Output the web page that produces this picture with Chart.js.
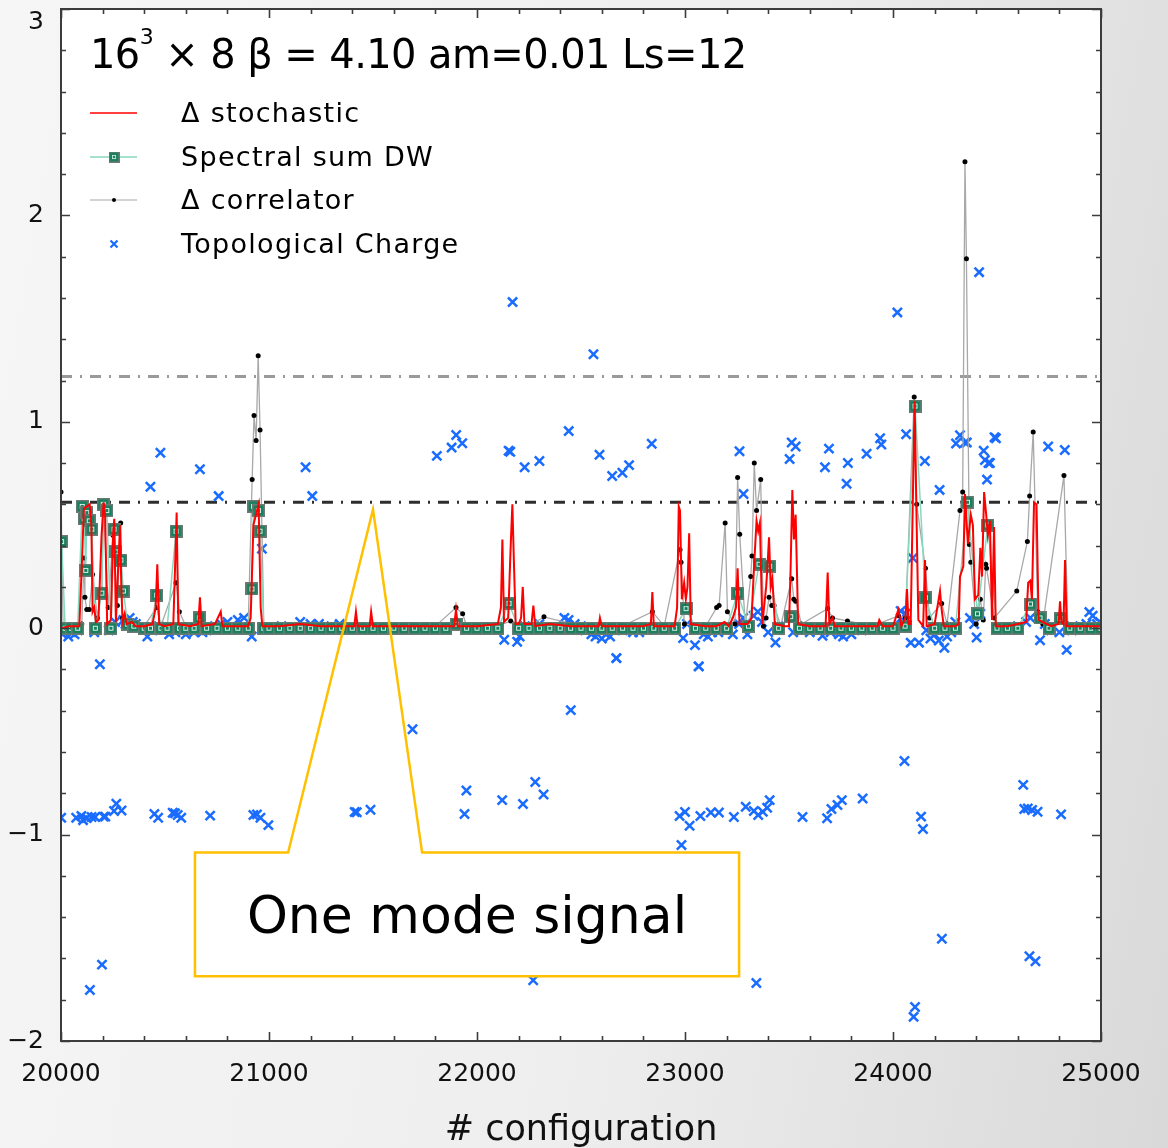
<!DOCTYPE html>
<html><head><meta charset="utf-8">
<script src="https://cdn.jsdelivr.net/npm/chart.js@4/dist/chart.umd.min.js"></script>
<style>
html,body{margin:0;padding:0;}
body{width:1168px;height:1148px;overflow:hidden;background:linear-gradient(100deg,#f6f6f6 0%,#eeeeee 55%,#d9d9d9 100%);font-family:"DejaVu Sans",sans-serif;}
#wrap{position:relative;width:1168px;height:1148px;}
#c{position:absolute;left:0;top:0;}
.t{position:absolute;white-space:nowrap;color:#000;line-height:1;}
#title{left:90px;top:34px;font-size:40px;letter-spacing:-0.6px;}
#title sup{font-size:22px;position:relative;top:-8px;vertical-align:top;}
.lg{left:181px;font-size:27px;letter-spacing:1.3px;}
#ann{left:195px;top:853px;width:544px;height:124px;font-size:52px;display:flex;align-items:center;justify-content:center;}
</style></head><body><div id="wrap">
<canvas id="c" width="1168" height="1148"></canvas>
<div class="t" id="title">16<sup>3</sup> × 8 β = 4.10 am=0.01 Ls=12</div>
<div class="t lg" style="top:99px">Δ stochastic</div>
<div class="t lg" style="top:143px">Spectral sum DW</div>
<div class="t lg" style="top:186px">Δ correlator</div>
<div class="t lg" style="top:230px">Topological Charge</div>
<div class="t" id="ann">One mode signal</div>
</div>
<script>
// ---------------- data ----------------
const xTickValues = [20000, 21000, 22000, 23000, 24000, 25000];
const yTickValues = [-2, -1, 0, 1, 2, 3];
const seriesNames = ['Δ stochastic', 'Spectral sum DW', 'Δ correlator', 'Topological Charge'];
const thresholdLevels = [1.22, 0.61];

const stochastic = [
[20000,0.0],[20040,0.01],[20088,0.01],[20100,0.3],[20110,0.58],[20124,0.59],[20138,0.6],[20146,0.5],[20152,0.08],[20160,0.1],[20168,0.03],[20180,0.04],[20195,0.45],[20205,0.61],[20212,0.55],[20222,0.02],[20240,0.04],[20250,0.45],[20256,0.53],[20264,0.03],[20275,0.3],[20284,0.5],[20290,0.2],[20296,0.03],[20306,0.07],[20315,0.02],[20340,0.03],[20360,0.01],[20400,0.01],[20440,0.02],[20455,0.1],[20463,0.31],[20472,0.02],[20500,0.01],[20540,0.02],[20550,0.35],[20556,0.56],[20564,0.02],[20620,0.01],[20660,0.02],[20668,0.15],[20676,0.01],[20740,0.02],[20768,0.08],[20776,0.01],[20850,0.01],[20900,0.01],[20912,0.05],[20925,0.5],[20940,0.56],[20950,0.6],[20960,0.1],[20968,0.01],[21050,0.01],[21150,0.02],[21250,0.01],[21350,0.01],[21410,0.01],[21418,0.08],[21426,0.01],[21484,0.01],[21491,0.08],[21500,0.01],[21600,0.01],[21700,0.01],[21800,0.01],[21890,0.01],[21899,0.09],[21908,0.01],[22000,0.01],[22100,0.02],[22115,0.1],[22122,0.43],[22130,0.03],[22150,0.05],[22162,0.4],[22170,0.6],[22178,0.3],[22186,0.02],[22200,0.02],[22212,0.05],[22220,0.2],[22228,0.02],[22262,0.02],[22271,0.11],[22280,0.01],[22350,0.02],[22450,0.01],[22550,0.01],[22585,0.01],[22591,0.05],[22600,0.01],[22700,0.01],[22800,0.01],[22836,0.02],[22843,0.175],[22850,0.01],[22900,0.01],[22950,0.01],[22962,0.1],[22970,0.59],[22976,0.57],[22985,0.14],[22996,0.22],[23004,0.14],[23012,0.2],[23020,0.46],[23028,0.02],[23100,0.01],[23150,0.01],[23190,0.03],[23210,0.01],[23230,0.05],[23245,0.1],[23253,0.29],[23262,0.02],[23300,0.02],[23320,0.05],[23332,0.3],[23344,0.52],[23352,0.47],[23360,0.51],[23372,0.02],[23390,0.2],[23396,0.29],[23404,0.44],[23412,0.2],[23420,0.24],[23432,0.02],[23480,0.01],[23500,0.01],[23508,0.3],[23516,0.67],[23524,0.43],[23532,0.55],[23544,0.02],[23600,0.01],[23676,0.01],[23686,0.27],[23694,0.02],[23709,0.05],[23720,0.01],[23800,0.01],[23926,0.01],[23934,0.04],[23950,0.01],[24000,0.01],[24026,0.09],[24040,0.01],[24060,0.05],[24067,0.19],[24075,0.02],[24085,0.02],[24095,0.6],[24104,1.1],[24112,0.6],[24122,0.04],[24145,0.01],[24154,0.33],[24162,0.01],[24200,0.02],[24226,0.18],[24234,0.09],[24244,0.01],[24300,0.01],[24316,0.02],[24322,0.25],[24338,0.3],[24346,0.65],[24360,0.41],[24374,0.55],[24384,0.5],[24394,0.14],[24410,0.16],[24420,0.39],[24428,0.25],[24438,0.66],[24448,0.55],[24456,0.45],[24466,0.52],[24476,0.04],[24486,0.49],[24494,0.01],[24550,0.01],[24600,0.02],[24640,0.03],[24650,0.22],[24660,0.23],[24668,0.14],[24678,0.61],[24690,0.6],[24700,0.04],[24760,0.01],[24796,0.02],[24803,0.13],[24810,0.03],[24820,0.02],[24827,0.33],[24835,0.01],[24900,0.01],[25000,0.01]
];

const spectral = [
[20003,0.42],[20020,0],[20050,0],[20080,0],[20102,0.59],[20112,0.53],[20119,0.28],[20124,0.56],[20136,0.52],[20148,0.48],[20165,0],[20196,0.17],[20203,0.6],[20220,0.57],[20240,0],[20255,0.48],[20264,0.37],[20288,0.33],[20300,0.18],[20320,0.02],[20350,0.01],[20400,0],[20430,0],[20460,0.16],[20480,0],[20510,0],[20553,0.47],[20570,0],[20600,0],[20640,0],[20665,0.05],[20700,0],[20750,0],[20800,0],[20850,0],[20900,0],[20918,0.19],[20926,0.59],[20949,0.57],[20957,0.47],[20975,0],
[21000,0],[21050,0],[21100,0],[21150,0],[21200,0],[21250,0],[21300,0],[21350,0],[21400,0],[21450,0],[21500,0],[21550,0],[21600,0],[21650,0],[21700,0],[21750,0],[21800,0],[21850,0],[21900,0.02],[21950,0],[22000,0],[22050,0],[22100,0],[22154,0.12],[22200,0],[22250,0],[22300,0],[22350,0],[22400,0],[22450,0],[22500,0],[22550,0],[22600,0],[22650,0],[22700,0],[22750,0],[22800,0],[22850,0],[22900,0],[22950,0],[23005,0.095],[23050,0],[23100,0],[23150,0],[23200,0],[23253,0.17],[23305,0.01],[23356,0.31],[23407,0.3],[23450,0],[23508,0.056],[23550,0],[23600,0],[23650,0],[23700,0],[23750,0],[23800,0],[23850,0],[23900,0],[23950,0],[24000,0],[24058,0.01],[24106,1.076],[24156,0.148],[24200,0],[24250,0],[24300,0],[24358,0.61],[24406,0.07],[24456,0.5],[24500,0],[24550,0],[24600,0],[24661,0.117],[24707,0.05],[24750,0],[24803,0.047],[24850,0],[24900,0],[24950,0],[25000,0]
];

const correlator = [
[20000,0.66],[20010,0],[20090,0],[20100,0.02],[20111,0.34],[20115,0.15],[20124,0.09],[20136,0.09],[20152,0.26],[20175,0.05],[20196,0.19],[20205,0.58],[20227,0.1],[20250,0.45],[20271,0.11],[20280,0.34],[20287,0.51],[20296,0.05],[20320,0.02],[20400,0.01],[20460,0.1],[20480,0.01],[20553,0.22],[20569,0.08],[20600,0.01],[20700,0.01],[20800,0.01],[20900,0.01],[20919,0.72],[20928,1.03],[20938,0.91],[20948,1.32],[20957,0.96],[20975,0.01],[21200,0.01],[21500,0.01],[21800,0.01],[21899,0.1],[21931,0.07],[21950,0.01],[22100,0.01],[22162,0.035],[22250,0.01],[22322,0.055],[22500,0.01],[22700,0.01],[22843,0.08],[22900,0.01],[22976,0.38],[22981,0.32],[22997,0.02],[23100,0.01],[23152,0.1],[23164,0.11],[23193,0.51],[23204,0.08],[23240,0.02],[23253,0.73],[23263,0.455],[23290,0.01],[23316,0.25],[23322,0.35],[23333,0.8],[23344,0.57],[23364,0.72],[23377,0.01],[23390,0.05],[23404,0.15],[23417,0.11],[23428,0.11],[23460,0.01],[23513,0.24],[23523,0.14],[23532,0.13],[23560,0.02],[23686,0.095],[23709,0.05],[23781,0.035],[23900,0.01],[24026,0.06],[24060,0.05],[24102,1.12],[24114,0.6],[24156,0.29],[24175,0.05],[24234,0.12],[24260,0.02],[24322,0.57],[24335,0.66],[24346,2.26],[24353,1.79],[24367,0.405],[24374,0.32],[24400,0.02],[24420,0.14],[24434,0.04],[24446,0.31],[24450,0.29],[24487,0.05],[24595,0.18],[24646,0.42],[24657,0.64],[24674,0.95],[24696,0.08],[24720,0.02],[24822,0.74],[24840,0.02],[24900,0.01],[25000,0.01]
];

const topologicalCharge = [
// upper
[20430,0.685],[20478,0.85],[20668,0.77],[20758,0.64],[20966,0.385],[21176,0.78],[21208,0.64],[21807,0.835],[21878,0.875],[21900,0.936],[21929,0.896],[22152,0.86],[22160,0.855],[22171,1.58],[22229,0.78],[22300,0.81],[22441,0.955],[22560,1.327],[22589,0.84],[22650,0.737],[22699,0.753],[22731,0.79],[22840,0.894],[23262,0.857],[23281,0.65],[23503,0.82],[23513,0.9],[23532,0.88],[23673,0.78],[23692,0.87],[23777,0.7],[23783,0.8],[23873,0.845],[23938,0.92],[23944,0.89],[24021,1.53],[24037,0.083],[24063,0.94],[24095,0.34],[24153,0.81],[24224,0.67],[24303,0.895],[24322,0.935],[24346,0.9],[24355,0.9],[24414,1.725],[24436,0.86],[24442,0.815],[24452,0.72],[24459,0.8],[24466,0.8],[24488,0.925],[24495,0.92],[24746,0.88],[24826,0.863],[24944,0.078],
// near zero
[20008,-0.03],[20020,-0.01],[20035,-0.04],[20050,-0.02],[20065,-0.03],[20080,-0.01],[20160,-0.02],[20230,-0.01],[20260,0.03],[20300,0.04],[20310,0.02],[20330,0.05],[20345,0.03],[20360,0.02],[20415,-0.04],[20440,-0.01],[20470,0.01],[20500,0.0],[20520,-0.03],[20550,-0.02],[20580,-0.01],[20600,-0.03],[20640,-0.02],[20680,-0.02],[20700,-0.01],[20740,0.01],[20770,0.02],[20800,0.03],[20850,0.04],[20880,0.05],[20917,-0.04],[21060,0.01],[21150,0.03],[21200,0.02],[21240,0.02],[21300,0.01],[21340,0.02],[21900,0.02],[22131,-0.056],[22193,-0.066],[22205,-0.04],[22230,0.01],[22300,0.02],[22420,0.05],[22440,0.04],[22470,0.02],[22500,0.01],[22520,-0.01],[22550,-0.03],[22570,-0.04],[22600,-0.05],[22620,-0.03],[22640,-0.04],[22670,-0.145],[22700,-0.01],[22750,-0.02],[22780,-0.02],[22991,-0.048],[23010,0.02],[23048,-0.082],[23066,-0.185],[23090,-0.03],[23110,-0.04],[23130,-0.02],[23160,-0.02],[23200,-0.01],[23230,-0.03],[23260,0.02],[23280,0.05],[23300,-0.03],[23330,0.06],[23350,0.08],[23370,0.03],[23400,-0.02],[23435,-0.069],[23450,0.01],[23520,-0.02],[23600,-0.02],[23640,-0.01],[23661,-0.037],[23700,-0.02],[23740,-0.03],[23760,-0.04],[23800,-0.03],[23850,-0.01],[24040,0.05],[24060,0.07],[24085,-0.07],[24125,-0.07],[24160,-0.01],[24180,-0.05],[24200,-0.03],[24220,-0.06],[24247,-0.095],[24260,-0.04],[24280,-0.02],[24300,0.03],[24370,0.05],[24390,0.02],[24402,-0.045],[24420,0.07],[24560,0.0],[24600,0.01],[24640,0.03],[24660,0.05],[24707,-0.058],[24730,0.02],[24760,-0.01],[24800,-0.02],[24835,-0.105],[24860,-0.01],[24900,0.01],[24930,0.02],[24960,0.06],[24980,0.02],[24995,0.03],
// lower
[20187,-0.175],[20001,-0.918],[20073,-0.918],[20098,-0.91],[20106,-0.93],[20123,-0.92],[20147,-0.915],[20164,-0.915],[20205,-0.913],[20213,-0.913],[20255,-0.886],[20266,-0.85],[20291,-0.883],[20449,-0.9],[20467,-0.918],[20537,-0.894],[20548,-0.897],[20561,-0.905],[20578,-0.918],[20717,-0.908],[20925,-0.905],[20942,-0.902],[20959,-0.918],[20997,-0.954],[20139,-1.753],[20197,-1.63],[21690,-0.49],[21412,-0.89],[21422,-0.892],[21488,-0.88],[21940,-0.9],[21949,-0.786],[22121,-0.833],[22221,-0.852],[22280,-0.745],[22320,-0.806],[22270,-1.706],[22451,-0.397],[22670,-0.145],[23066,-0.185],[22974,-0.91],[23000,-0.89],[23022,-0.957],[22983,-1.05],[23074,-0.91],[23124,-0.893],[23163,-0.893],[23235,-0.915],[23292,-0.865],[23331,-0.886],[23352,-0.905],[23374,-0.889],[23395,-0.87],[23407,-0.833],[23565,-0.915],[23683,-0.921],[23704,-0.876],[23733,-0.857],[23754,-0.833],[23854,-0.825],[24055,-0.643],[24135,-0.913],[24144,-0.973],[24235,-1.505],[24106,-1.835],[24099,-1.883],[24626,-0.759],[24631,-0.876],[24648,-0.873],[24669,-0.881],[24695,-0.889],[24808,-0.902],[24656,-1.589],[24685,-1.614],[23343,-1.719]
];

// annotation callout (data coordinates)
const callout = { boxX:[20644, 23260], boxY:[-1.087, -1.686], baseX:[21092, 21736], tip:[21500, 0.575] };

// ---------------- drawing ----------------
const toXY = arr => arr.map(p => ({x:p[0], y:p[1]})).sort((a,b)=>a.x-b.x);

function makeSquare(){
  const c = document.createElement('canvas'); c.width = 13; c.height = 13;
  const g = c.getContext('2d');
  g.fillStyle = '#6d7a74'; g.fillRect(0,0,13,13);
  g.fillStyle = '#16805e'; g.fillRect(1.5,1.5,10,10);
  g.strokeStyle = '#d5ece3'; g.lineWidth = 1; g.strokeRect(4.5,4.5,4,4);
  return c;
}
const squareImg = makeSquare();
const COLORS = { red:'#ff0000', teal:'#86d9bd', gray:'#a8a8a8', blue:'#1a6cff' };

const decor = {
  id:'decor',
  beforeDraw(chart){
    const {ctx, chartArea:a} = chart;
    ctx.save(); ctx.fillStyle = '#ffffff';
    ctx.fillRect(a.left, a.top, a.right-a.left, a.bottom-a.top); ctx.restore();
  },
  afterDatasetsDraw(chart){
    const {ctx, scales:{x, y}} = chart;
    const X = v => x.getPixelForValue(v), Y = v => y.getPixelForValue(v);
    const bx0 = X(callout.boxX[0]), bx1 = X(callout.boxX[1]);
    const by0 = Y(callout.boxY[0]), by1 = Y(callout.boxY[1]);
    ctx.save();
    ctx.fillStyle = '#ffffff';
    ctx.fillRect(bx0, by0, bx1 - bx0, by1 - by0);
    ctx.beginPath();
    ctx.moveTo(bx0, by0);
    ctx.lineTo(X(callout.baseX[0]), by0);
    ctx.lineTo(X(callout.tip[0]), Y(callout.tip[1]));
    ctx.lineTo(X(callout.baseX[1]), by0);
    ctx.lineTo(bx1, by0);
    ctx.lineTo(bx1, by1);
    ctx.lineTo(bx0, by1);
    ctx.closePath();
    ctx.strokeStyle = '#ffc000'; ctx.lineWidth = 2.5; ctx.lineJoin = 'miter';
    ctx.stroke();
    ctx.restore();
  },
  afterDraw(chart){
    const {ctx, chartArea:a, scales:{x, y}} = chart;
    ctx.save();
    ctx.strokeStyle = '#3c3c3c'; ctx.lineWidth = 1.6;
    for (let v = 20000; v <= 25000; v += 200) {
      const px = Math.round(x.getPixelForValue(v)) + 0.5;
      const len = (v % 1000 === 0) ? 9 : 5;
      ctx.beginPath();
      ctx.moveTo(px, a.bottom); ctx.lineTo(px, a.bottom - len);
      ctx.moveTo(px, a.top); ctx.lineTo(px, a.top + len);
      ctx.stroke();
    }
    for (let i = -10; i <= 15; i++) {
      const v = i / 5;
      const py = Math.round(y.getPixelForValue(v)) + 0.5;
      const len = (i % 5 === 0) ? 9 : 5;
      ctx.beginPath();
      ctx.moveTo(a.left, py); ctx.lineTo(a.left + len, py);
      ctx.moveTo(a.right, py); ctx.lineTo(a.right - len, py);
      ctx.stroke();
    }
    ctx.lineWidth = 2;
    ctx.strokeRect(a.left, a.top, a.right - a.left, a.bottom - a.top);
    // legend symbols
    const lx0 = 90, lx1 = 137, lxc = 114;
    const rows = [113, 157, 200, 244];
    ctx.lineWidth = 1.5; ctx.strokeStyle = COLORS.red;
    ctx.beginPath(); ctx.moveTo(lx0, rows[0]); ctx.lineTo(lx1, rows[0]); ctx.stroke();
    ctx.lineWidth = 1.5; ctx.strokeStyle = COLORS.teal;
    ctx.beginPath(); ctx.moveTo(lx0, rows[1]); ctx.lineTo(lx1, rows[1]); ctx.stroke();
    ctx.drawImage(squareImg, lxc - 5.5, rows[1] - 5.5, 11, 11);
    ctx.lineWidth = 1.2; ctx.strokeStyle = COLORS.gray;
    ctx.beginPath(); ctx.moveTo(lx0, rows[2]); ctx.lineTo(lx1, rows[2]); ctx.stroke();
    ctx.fillStyle = '#000'; ctx.beginPath(); ctx.arc(lxc, rows[2], 2, 0, Math.PI*2); ctx.fill();
    ctx.strokeStyle = COLORS.blue; ctx.lineWidth = 2.2;
    ctx.beginPath(); ctx.moveTo(lxc-3.5, rows[3]-3.5); ctx.lineTo(lxc+3.5, rows[3]+3.5);
    ctx.moveTo(lxc+3.5, rows[3]-3.5); ctx.lineTo(lxc-3.5, rows[3]+3.5); ctx.stroke();
    ctx.restore();
  }
};

const hline = (lvl, color) => ({
  label:'', data:[{x:20000,y:lvl},{x:25000,y:lvl}], borderColor:color, borderWidth:3,
  borderDash:[11,8,2,8], pointRadius:0, fill:false
});

new Chart(document.getElementById('c'), {
  type:'line',
  data:{ datasets:[
    { label:seriesNames[0], data:toXY(stochastic), borderColor:COLORS.red, borderWidth:2, pointRadius:0, fill:false, tension:0 },
    { label:seriesNames[1], data:toXY(spectral), borderColor:COLORS.teal, borderWidth:1.5, pointStyle:squareImg, pointRadius:6, fill:false, tension:0 },
    { label:seriesNames[2], data:toXY(correlator), borderColor:COLORS.gray, borderWidth:1.3, pointRadius:2.5, pointBackgroundColor:'#000', pointBorderColor:'#000', pointBorderWidth:0, fill:false, tension:0 },
    { label:seriesNames[3], data:toXY(topologicalCharge), showLine:false, pointStyle:'crossRot', pointRadius:6.5, borderColor:COLORS.blue, backgroundColor:COLORS.blue, pointBorderWidth:2.5, borderWidth:2.5 },
    hline(thresholdLevels[0], '#9a9a9a'),
    hline(thresholdLevels[1], '#2e2e2e')
  ]},
  options:{
    responsive:false, animation:false, devicePixelRatio:1,
    layout:{ padding:{ left:0, right:67, top:7, bottom:0 } },
    plugins:{ legend:{display:false}, tooltip:{enabled:false} },
    events:[],
    scales:{
      x:{ type:'linear', min:20000, max:25000,
          afterBuildTicks(s){ s.ticks = xTickValues.map(v=>({value:v})); },
          afterFit(s){ s.height = 107; s.paddingLeft = 0; s.paddingRight = 0; },
          grid:{ display:false }, border:{ display:false },
          ticks:{ color:'#111', font:{family:'DejaVu Sans', size:25}, padding:10, maxRotation:0, callback:v=>String(v) },
          title:{ display:true, text:'# configuration', color:'#111', font:{family:'DejaVu Sans', size:35}, padding:{top:0,bottom:-4} } },
      y:{ min:-2, max:3,
          afterBuildTicks(s){ s.ticks = yTickValues.map(v=>({value:v})); },
          afterFit(s){ s.width = 61; s.paddingTop = 0; s.paddingBottom = 0; },
          grid:{ display:false }, border:{ display:false },
          ticks:{ color:'#111', font:{family:'DejaVu Sans', size:25, lineHeight:1.05}, padding:9,
                  callback:v => {
                    const s = v < 0 ? '\u2212' + Math.abs(v) : String(v);
                    return v === yTickValues[yTickValues.length - 1] ? ['', s] : s;
                  } } }
    }
  },
  plugins:[decor]
});
</script>
</body></html>
